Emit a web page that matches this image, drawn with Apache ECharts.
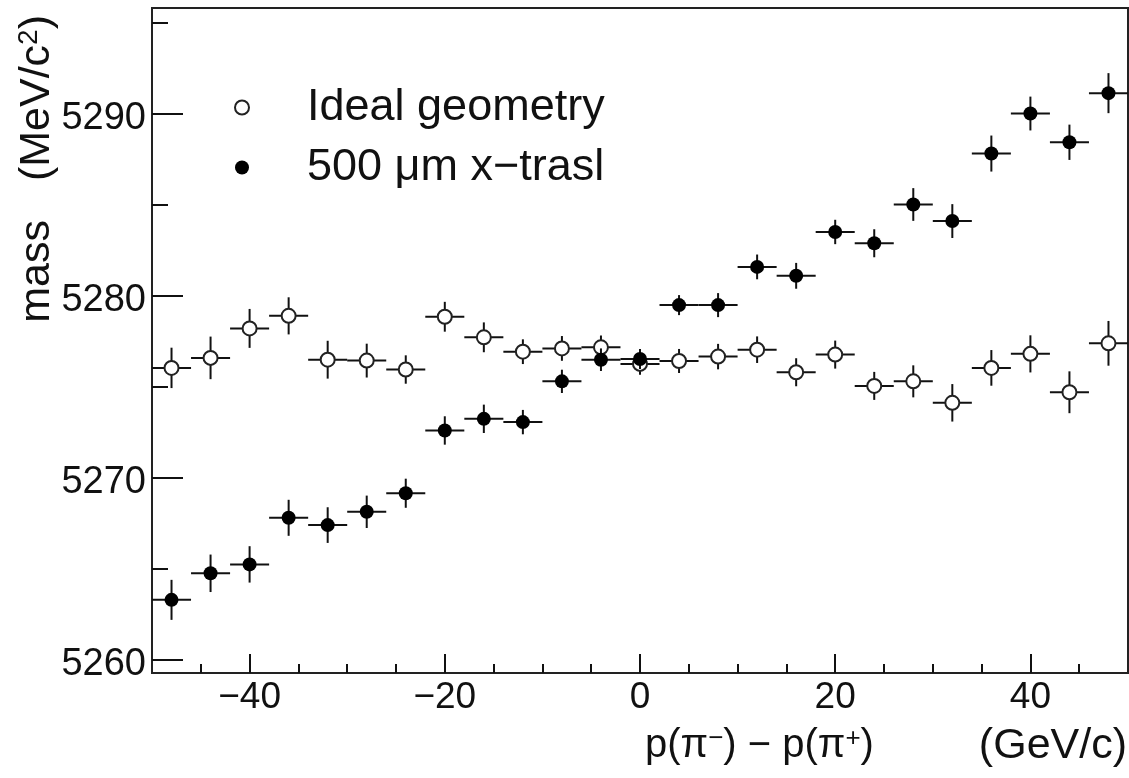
<!DOCTYPE html>
<html>
<head>
<meta charset="utf-8">
<script src="https://cdn.jsdelivr.net/npm/echarts@6/dist/echarts.min.js"></script>
<style>
html,body{margin:0;padding:0;background:#fff;}
#chart{width:1129px;height:778px;}
</style>
</head>
<body>
<div id="chart"></div>
<script>
// ---- data ----
var binCenters = [-48,-44,-40,-36,-32,-28,-24,-20,-16,-12,-8,-4,0,4,8,12,16,20,24,28,32,36,40,44,48];
var binWidth = 4;
var idealMass = [5276.04,5276.59,5278.21,5278.90,5276.49,5276.44,5275.95,5278.85,5277.72,5276.93,5277.11,5277.17,5276.26,5276.42,5276.66,5277.04,5275.80,5276.77,5275.05,5275.30,5274.12,5276.04,5276.81,5274.70,5277.39];
var idealErr  = [1.11,1.17,1.07,1.02,1.04,0.93,0.78,0.82,0.82,0.68,0.68,0.65,0.60,0.66,0.70,0.73,0.77,0.77,0.77,0.88,1.03,0.98,1.02,1.15,1.23];
var traslMass = [5263.29,5264.75,5265.24,5267.80,5267.40,5268.13,5269.15,5272.60,5273.24,5273.06,5275.30,5276.49,5276.53,5279.49,5279.49,5281.59,5281.10,5283.51,5282.89,5285.02,5284.11,5287.82,5290.02,5288.44,5291.14];
var traslErr  = [1.10,1.03,1.00,0.99,0.98,0.89,0.80,0.78,0.78,0.67,0.64,0.62,0.55,0.55,0.66,0.68,0.71,0.67,0.77,0.90,0.93,0.99,0.93,0.97,1.10];
var seriesNames = ['Ideal geometry', '500 \u03bcm x\u2212trasl'];
var xRange = [-50, 50];
var yRange = [5259.27, 5295.82];
var xMajorTicks = [-40,-20,0,20,40];
var xMinorTicks = [-45,-35,-30,-25,-15,-10,-5,5,10,15,25,30,35,45];
var yMajorTicks = [5260,5270,5280,5290];
var yMinorTicks = [5265,5275,5285,5295];

var FONT = '"Liberation Sans", Arial, Helvetica, sans-serif';
var INK = '#111';

function rows(mass, err) {
  return binCenters.map(function (x, i) { return [x, mass[i], err[i]]; });
}
function errorBars(params, api) {
  var x = api.value(0), y = api.value(1), e = api.value(2);
  var l = api.coord([x - binWidth / 2, y]);
  var r = api.coord([x + binWidth / 2, y]);
  var t = api.coord([x, y + e]);
  var b = api.coord([x, y - e]);
  var st = { stroke: INK, lineWidth: 2 };
  return { type: 'group', children: [
    { type: 'line', shape: { x1: l[0], y1: l[1], x2: r[0], y2: r[1] }, style: st },
    { type: 'line', shape: { x1: t[0], y1: t[1], x2: b[0], y2: b[1] }, style: st }
  ]};
}
function fmtX(v) { return v < 0 ? '\u2212' + (-v) : String(v); }
function fmtY(v) { return '{n|' + String(v) + '}'; }

var chart = echarts.init(document.getElementById('chart'), null, { renderer: 'canvas' });
var option = {
  animation: false,
  backgroundColor: '#fff',
  textStyle: { fontFamily: FONT, color: INK },
  grid: { left: 152, right: 1, top: 8, bottom: 105, show: true, borderColor: '#222', borderWidth: 2, backgroundColor: 'transparent' },
  xAxis: [
    { type: 'value', min: xRange[0], max: xRange[1], position: 'bottom',
      axisLine: { show: false, onZero: false }, splitLine: { show: false },
      axisTick: { inside: true, length: 19, lineStyle: { color: INK, width: 2 }, customValues: xMajorTicks },
      axisLabel: { customValues: xMajorTicks, formatter: fmtX, fontSize: 37, fontFamily: FONT, color: INK, margin: 6 } },
    { type: 'value', min: xRange[0], max: xRange[1], position: 'bottom',
      axisLine: { show: false, onZero: false }, splitLine: { show: false }, axisLabel: { show: false },
      axisTick: { inside: true, length: 9, lineStyle: { color: INK, width: 2 }, customValues: xMinorTicks } }
  ],
  yAxis: [
    { type: 'value', min: yRange[0], max: yRange[1], position: 'left',
      axisLine: { show: false, onZero: false }, splitLine: { show: false },
      axisTick: { inside: true, length: 31, lineStyle: { color: INK, width: 2 }, customValues: yMajorTicks },
      axisLabel: { customValues: yMajorTicks, formatter: fmtY, fontSize: 38, fontFamily: FONT, color: INK, margin: 6,
        rich: { n: { fontSize: 38, fontFamily: FONT, color: INK, padding: [10, 0, 0, 0] } } } },
    { type: 'value', min: yRange[0], max: yRange[1], position: 'left',
      axisLine: { show: false, onZero: false }, splitLine: { show: false }, axisLabel: { show: false },
      axisTick: { inside: true, length: 16, lineStyle: { color: INK, width: 2 }, customValues: yMinorTicks } }
  ],
  legend: {
    data: seriesNames, orient: 'vertical', left: 229, top: 80,
    itemWidth: 120, itemHeight: 14, itemGap: 15, symbolKeepAspect: true,
    textStyle: { fontSize: 45, fontFamily: FONT, color: INK }
  },
  series: [
    { type: 'custom', name: seriesNames[0] + ' err', data: rows(idealMass, idealErr), renderItem: errorBars, z: 2 },
    { type: 'scatter', name: seriesNames[0], data: rows(idealMass, idealErr), symbol: 'circle', symbolSize: 14,
      itemStyle: { color: '#fff', borderColor: '#222', borderWidth: 2, opacity: 1 }, z: 3 },
    { type: 'custom', name: seriesNames[1] + ' err', data: rows(traslMass, traslErr), renderItem: errorBars, z: 4 },
    { type: 'scatter', name: seriesNames[1], data: rows(traslMass, traslErr), symbol: 'circle', symbolSize: 14,
      itemStyle: { color: '#000', borderColor: '#000', borderWidth: 0, opacity: 1 }, z: 5 }
  ],
  graphic: [
    { type: 'text', x: 37, y: 15, rotation: Math.PI / 2, z: 10,
      style: { text: '(MeV/c{sup|2})', align: 'right', verticalAlign: 'middle', fontSize: 43, fontFamily: FONT, fill: INK,
        rich: { sup: { fontSize: 28, fontFamily: FONT, fill: INK, verticalAlign: 'top' } } } },
    { type: 'text', x: 37, y: 220, rotation: Math.PI / 2, z: 10,
      style: { text: 'mass', align: 'right', verticalAlign: 'middle', fontSize: 43, fontFamily: FONT, fill: INK } },
    { type: 'text', x: 1127, y: 746, z: 10,
      style: { text: '(GeV/c)', align: 'right', verticalAlign: 'middle', fontSize: 43, fontFamily: FONT, fill: INK } },
    { type: 'text', x: 645, y: 746, z: 10,
      style: { text: 'p(\u03c0{sup|\u2212}) \u2212 p(\u03c0{sup|+})', align: 'left', verticalAlign: 'middle', fontSize: 40, fontFamily: FONT, fill: INK,
        rich: { sup: { fontSize: 26, fontFamily: FONT, fill: INK, verticalAlign: 'top' } } } }
  ]
};
chart.setOption(option);
</script>
</body>
</html>
